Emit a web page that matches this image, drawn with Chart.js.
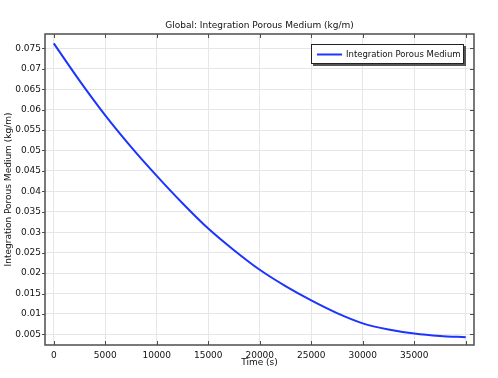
<!DOCTYPE html>
<html>
<head>
<meta charset="utf-8">
<script src="https://cdn.jsdelivr.net/npm/chart.js@4.4.1/dist/chart.umd.min.js"></script>
<style>
  html, body { margin: 0; padding: 0; background: #fff; }
  #wrap { width: 498px; height: 378px; }
</style>
</head>
<body>
<div id="wrap"><canvas id="myChart"></canvas></div>
<script>
// time (s) and integrated mass (kg/m)
const times = [0, 2500, 5000, 7500, 10000, 12500, 15000, 17500, 20000,
	22500, 25000, 27500, 30000, 32500, 35000, 37500, 40000];
const mass = [0.0762, 0.0671, 0.0586, 0.0509, 0.0438, 0.0371, 0.0309, 0.0256, 0.0208,
	0.0168, 0.0133, 0.0102, 0.0077, 0.0062, 0.0052, 0.0046, 0.0043];
const xTicks = [0, 5000, 10000, 15000, 20000, 25000, 30000, 35000, 40000];
const yTicks = [0.005, 0.01, 0.015, 0.02, 0.025, 0.03, 0.035, 0.04, 0.045,
	0.05, 0.055, 0.06, 0.065, 0.07, 0.075];
const chartTitle = 'Global: Integration Porous Medium (kg/m)';

const FONT = 'DejaVu Sans, Verdana, sans-serif';
const lineColor = 'rgb(28, 52, 255)';
const frameColor = '#4d4d4d';

// title over the plot area, frame, ticks (left outward, the rest inward) and the boxed legend
const framePlugin = {
	id: 'frame',
	afterDatasetsDraw(chart) {
		const ctx = chart.ctx;
		const a = chart.chartArea;
		const xs = chart.scales.x, ys = chart.scales.y;
		ctx.save();

		ctx.fillStyle = '#111';
		ctx.font = '9px ' + FONT;
		ctx.textAlign = 'center';
		ctx.textBaseline = 'middle';
		ctx.fillText(chartTitle, (a.left + a.right) / 2, a.top - 8);

		ctx.strokeStyle = frameColor;
		ctx.lineWidth = 1;
		ctx.beginPath();
		xTicks.forEach(v => {
			const px = Math.round(xs.getPixelForValue(v)) + 0.5;
			ctx.moveTo(px, a.bottom); ctx.lineTo(px, a.bottom - 4);
			ctx.moveTo(px, a.top); ctx.lineTo(px, a.top + 4);
		});
		yTicks.forEach(v => {
			const py = Math.round(ys.getPixelForValue(v)) + 0.5;
			ctx.moveTo(a.left, py); ctx.lineTo(a.left - 3, py);
			ctx.moveTo(a.right, py); ctx.lineTo(a.right - 4, py);
		});
		ctx.stroke();
		ctx.lineWidth = 1.5;
		ctx.strokeRect(a.left, a.top, a.right - a.left, a.bottom - a.top);

		// legend
		const w = 153, h = 20;
		const lx = a.right - 10 - w, ly = a.top + 10;
		ctx.fillStyle = '#555';
		ctx.fillRect(lx + 2, ly + 2, w, h);
		ctx.fillStyle = '#fff';
		ctx.fillRect(lx, ly, w, h);
		ctx.lineWidth = 1;
		ctx.strokeStyle = '#222';
		ctx.strokeRect(lx + 0.5, ly + 0.5, w - 1, h - 1);
		ctx.strokeStyle = lineColor;
		ctx.lineWidth = 2;
		ctx.beginPath();
		ctx.moveTo(lx + 6, ly + 10.5); ctx.lineTo(lx + 31, ly + 10.5);
		ctx.stroke();
		ctx.fillStyle = '#111';
		ctx.font = '8.5px ' + FONT;
		ctx.textAlign = 'left';
		ctx.fillText(chart.data.datasets[0].label, lx + 35, ly + 10.5);
		ctx.restore();
	}
};

const ctx = document.getElementById('myChart').getContext('2d');
const myChart = new Chart(ctx, {
	type: 'line',
	data: {
		datasets: [{
			label: 'Integration Porous Medium',
			data: times.map((t, i) => ({ x: t, y: mass[i] })),
			borderColor: lineColor,
			borderWidth: 2,
			pointRadius: 0,
			fill: false,
			cubicInterpolationMode: 'monotone'
		}]
	},
	options: {
		responsive: true,
		maintainAspectRatio: false,
		animation: false,
		layout: { padding: { left: 0, right: 24, top: 34, bottom: 0 } },
		plugins: {
			legend: { display: false },
			tooltip: { enabled: false },
			title: { display: false }
		},
		scales: {
			x: {
				type: 'linear',
				min: -850,
				max: 40800,
				afterBuildTicks: s => { s.ticks = xTicks.map(v => ({ value: v })); },
				afterFit: s => { s.height = 33; },
				ticks: {
					color: '#111',
					font: { family: FONT, size: 9 },
					padding: 5,
					maxRotation: 0,
					callback: v => (v === 40000 ? '' : String(v))
				},
				grid: { color: '#e6e6e6', drawTicks: false },
				border: { display: false },
				title: {
					display: true,
					text: 'Time (s)',
					color: '#111',
					font: { family: FONT, size: 9 },
					padding: { top: 0, bottom: 10 }
				}
			},
			y: {
				type: 'linear',
				min: 0.0024,
				max: 0.0785,
				afterBuildTicks: s => { s.ticks = yTicks.map(v => ({ value: v })); },
				afterFit: s => { s.width = 45; },
				ticks: {
					color: '#111',
					font: { family: FONT, size: 9 },
					padding: 4,
					callback: v => String(+v.toFixed(3))
				},
				grid: { color: '#e6e6e6', drawTicks: false },
				border: { display: false },
				title: {
					display: true,
					text: 'Integration Porous Medium (kg/m)',
					color: '#111',
					font: { family: FONT, size: 9 },
					padding: { top: 3, bottom: 2 }
				}
			}
		}
	},
	plugins: [framePlugin]
});
</script>
</body>
</html>
